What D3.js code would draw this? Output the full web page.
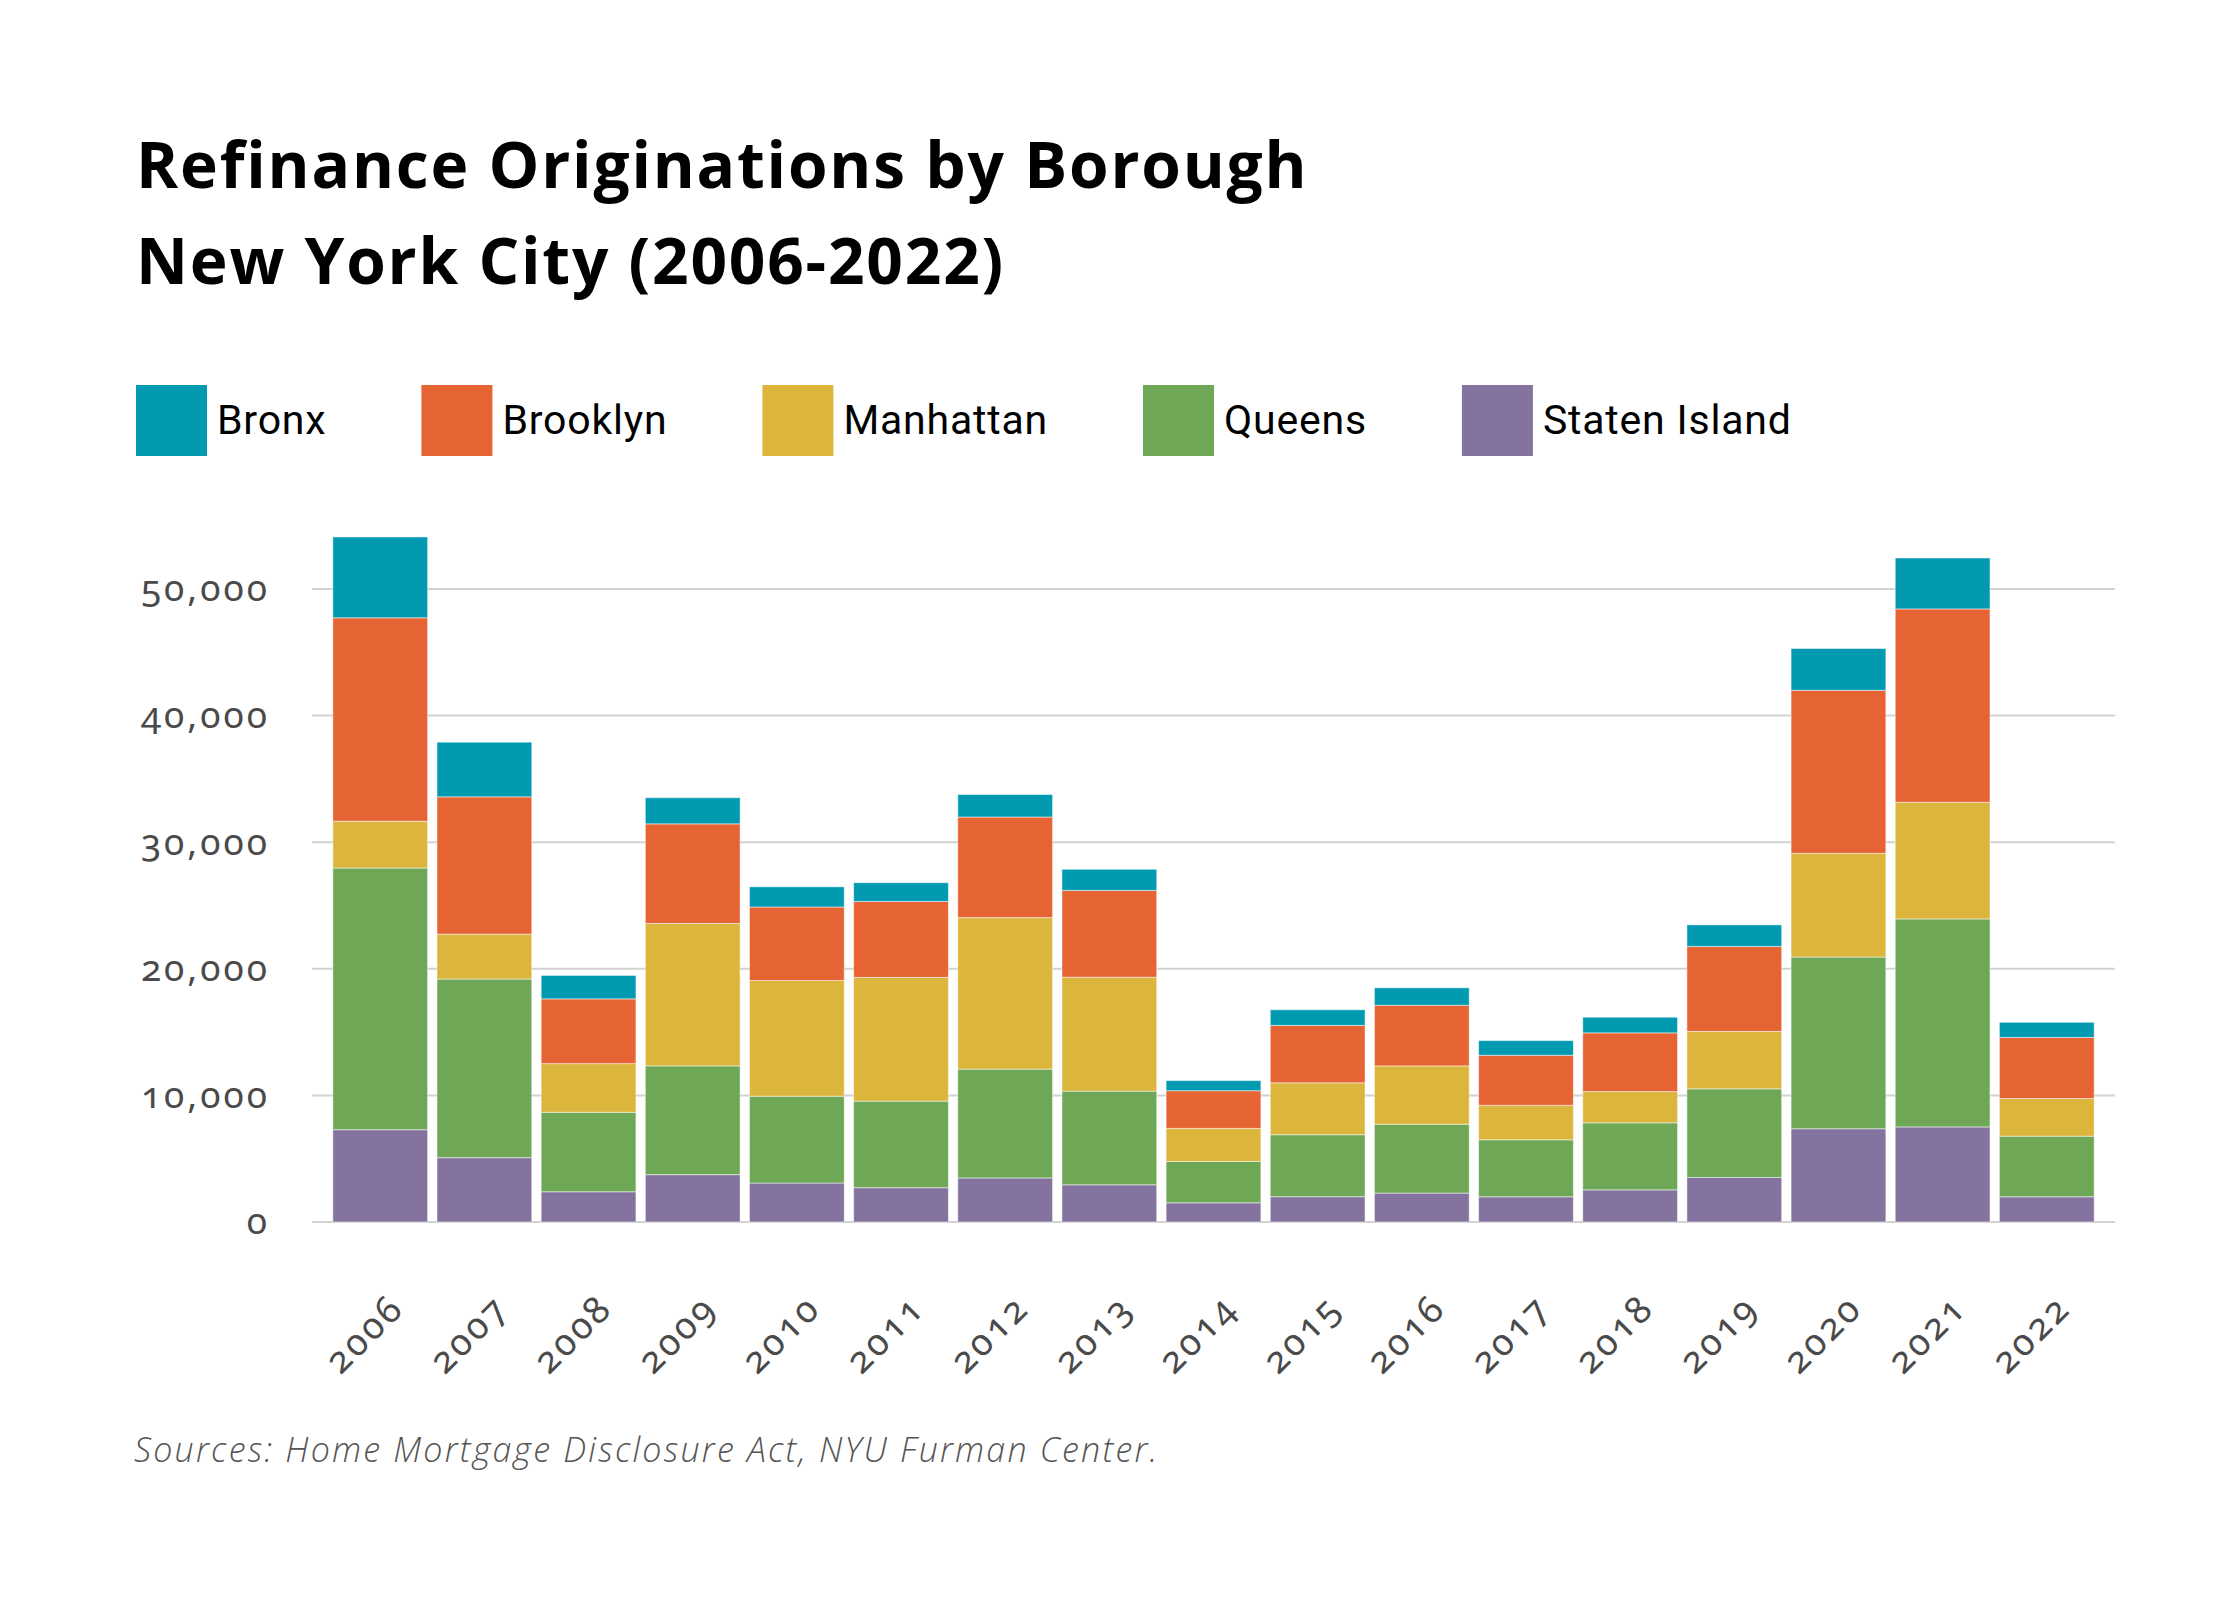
<!DOCTYPE html>
<html>
<head>
<meta charset="utf-8">
<script src="https://cdn.jsdelivr.net/npm/d3@7"></script>
<style>
  body { margin: 0; background: #fff; }
</style>
</head>
<body>
<div id="my_dataviz"></div>
<script>
// Categories and series
var years = ["2006", "2007", "2008", "2009", "2010", "2011", "2012", "2013", "2014",
             "2015", "2016", "2017", "2018", "2019", "2020", "2021", "2022"];
var boroughs = ["Staten Island", "Queens", "Manhattan", "Brooklyn", "Bronx"];
var legendOrder = ["Bronx", "Brooklyn", "Manhattan", "Queens", "Staten Island"];

var statenIsland = [7290, 5080, 2390, 3740, 3080, 2710, 3480, 2940, 1520, 2000, 2285, 1995, 2540, 3520, 7365, 7510, 1995];
var queens       = [20670, 14110, 6275, 8595, 6855, 6840, 8595, 7400, 3265, 4895, 5440, 4500, 5295, 7000, 13565, 16430, 4785];
var manhattan    = [3700, 3550, 3845, 11245, 9140, 9770, 11970, 8995, 2610, 4100, 4605, 2720, 2465, 4535, 8195, 9215, 2975];
var brooklyn     = [16065, 10845, 5115, 7870, 5805, 6000, 7945, 6855, 2975, 4535, 4790, 3955, 4640, 6710, 12875, 15270, 4825];
var bronx        = [6385, 4315, 1850, 2065, 1595, 1480, 1775, 1670, 800, 1235, 1380, 1160, 1235, 1705, 3300, 4025, 1195];

var yTicks = [0, 10000, 20000, 30000, 40000, 50000];
var colors = ["#84739f", "#6ea857", "#dcb53c", "#e66434", "#019ab1"];

var titleLines = ["Refinance Originations by Borough", "New York City (2006-2022)"];
var sourceText = "Sources: Home Mortgage Disclosure Act, NYU Furman Center.";

// Build a table for d3.stack
var table = years.map(function(yr, i) {
    return {
        year: yr,
        "Staten Island": statenIsland[i],
        "Queens": queens[i],
        "Manhattan": manhattan[i],
        "Brooklyn": brooklyn[i],
        "Bronx": bronx[i]
    };
});

var W = 2240, H = 1600;
var svg = d3.select("#my_dataviz")
    .append("svg")
    .attr("width", W)
    .attr("height", H)
    .style("background", "#fff");

// Title
svg.append("g")
    .selectAll("text")
    .data(titleLines)
    .enter()
    .append("text")
    .attr("x", 136)
    .attr("y", (d, i) => 188 + i * 96)
    .style("font-family", "'Open Sans', sans-serif")
    .style("font-weight", 700)
    .style("font-size", "64px")
    .style("letter-spacing", "1.8px")
    .style("fill", "#000")
    .text(d => d);

// Colour scale
var color = d3.scaleOrdinal()
    .domain(boroughs)
    .range(colors);

// Legend (flows left to right)
var legend = svg.append("g");
var lx = 136;
legendOrder.forEach(function(name) {
    legend.append("rect")
        .attr("x", lx)
        .attr("y", 385)
        .attr("width", 71)
        .attr("height", 71)
        .style("fill", color(name));
    var t = legend.append("text")
        .attr("x", lx + 81)
        .attr("y", 434)
        .style("font-family", "Roboto, sans-serif")
        .style("font-size", "41px")
        .style("letter-spacing", "0.8px")
        .style("fill", "#000")
        .text(name);
    lx += 81 + t.node().getComputedTextLength() + 95;
});

// Scales
var x = d3.scaleBand()
    .domain(years)
    .range([312, 2115])
    .paddingInner(0.09)
    .paddingOuter(0.2);

var y = d3.scaleLinear()
    .domain([0, 50000])
    .range([1222, 589]);

// Gridlines
svg.append("g")
    .selectAll("line")
    .data(yTicks)
    .enter()
    .append("line")
    .attr("x1", 312)
    .attr("x2", 2115)
    .attr("y1", d => y(d))
    .attr("y2", d => y(d))
    .style("stroke", "#d2d2d2")
    .style("stroke-width", 2);

// Y axis labels
var yAxis = svg.append("g")
    .attr("transform", "translate(270,0)")
    .call(d3.axisLeft(y).tickValues(yTicks).tickSize(0).tickPadding(0).tickFormat(d3.format(",")));
yAxis.select(".domain").remove();
yAxis.selectAll("text")
    .attr("dy", "0.32em")
    .style("font-family", "'Noto Sans', sans-serif")
    .style("font-variant-numeric", "oldstyle-nums")
    .style("font-size", "37px")
    .style("letter-spacing", "3px")
    .style("fill", "#4a4a4a");

// Stacked bars
var series = d3.stack().keys(boroughs)(table);

svg.append("g")
    .selectAll("g")
    .data(series)
    .enter()
    .append("g")
    .style("fill", d => color(d.key))
    .selectAll("rect")
    .data(d => d)
    .enter()
    .append("rect")
    .attr("x", d => x(d.data.year))
    .attr("y", d => y(d[1]))
    .attr("height", d => y(d[0]) - y(d[1]))
    .attr("width", x.bandwidth())
    .style("stroke", "#fff")
    .style("stroke-width", 1)
    .style("stroke-opacity", 0.5);

// X axis labels, rotated
var xAxis = svg.append("g")
    .attr("transform", "translate(0,1222)")
    .call(d3.axisBottom(x).tickSize(0).tickPadding(0));
xAxis.select(".domain").remove();
xAxis.selectAll("text")
    .attr("transform", "translate(26,88) rotate(-45)")
    .attr("dy", "0")
    .attr("y", 0)
    .style("text-anchor", "end")
    .style("font-family", "'Noto Sans', sans-serif")
    .style("font-variant-numeric", "oldstyle-nums")
    .style("font-size", "37px")
    .style("letter-spacing", "3px")
    .style("fill", "#4a4a4a");

// Source note
svg.append("text")
    .attr("x", 134)
    .attr("y", 1462)
    .style("font-family", "'Open Sans', sans-serif")
    .style("font-style", "italic")
    .style("font-weight", 300)
    .style("font-size", "34px")
    .style("letter-spacing", "2.2px")
    .style("fill", "#555")
    .text(sourceText);
</script>
</body>
</html>
